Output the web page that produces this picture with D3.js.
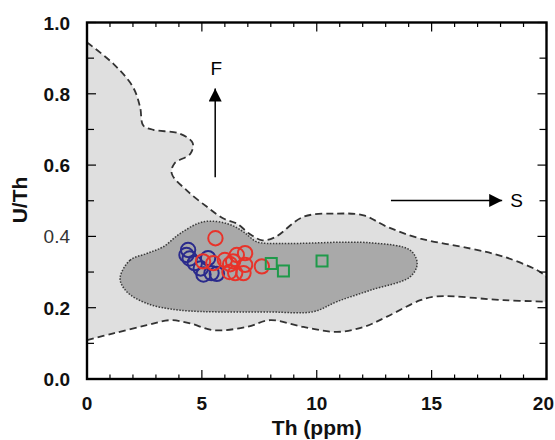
<!DOCTYPE html>
<html><head><meta charset="utf-8">
<script src="https://cdn.jsdelivr.net/npm/d3@7"></script>
<style>body{margin:0;background:#fff}svg{display:block}</style>
</head><body>
<svg id="c" width="555" height="440"></svg>
<script>
// ---- data ----
const xTicks = [0, 5, 10, 15, 20];
const yTicks = [0.0, 0.2, 0.4, 0.6, 0.8, 1.0];
const yTickLabels = ["0.0", "0.2", "0.4", "0.6", "0.8", "1.0"];
const xTickLabels = ["0", "5", "10", "15", "20"];

// outer field (dashed) top and bottom boundaries [Th, U/Th]
const outerTop = [[0,0.944],[1.15,0.884],[2.0,0.819],[2.31,0.763],[2.45,0.711],[2.89,0.699],[4.05,0.688],[4.6,0.662],[4.5,0.632],[3.8,0.604],[3.69,0.576],[4.34,0.529],[5.22,0.483],[5.94,0.450],[6.52,0.436],[7.1,0.406],[7.63,0.389],[8.19,0.398],[9.42,0.455],[10.88,0.464],[12.04,0.459],[13.06,0.427],[14.51,0.394],[16.69,0.366],[18.14,0.343],[19.6,0.305],[20,0.287]];
const outerBottom = [[0,0.109],[1.15,0.128],[2.6,0.151],[3.62,0.165],[4.49,0.156],[5.5,0.137],[6.96,0.146],[7.97,0.165],[9.42,0.146],[10.88,0.132],[12.04,0.146],[13.06,0.175],[14.51,0.221],[15.24,0.232],[18.14,0.221],[20,0.217]];
// inner field (dotted)
const innerField = [[1.44,0.282],[1.87,0.333],[2.6,0.352],[3.32,0.371],[4.05,0.408],[5.07,0.441],[6.09,0.436],[6.81,0.413],[7.39,0.385],[8.41,0.380],[12.33,0.382],[14.07,0.361],[14.37,0.324],[14.07,0.287],[12.33,0.249],[10.88,0.217],[9.86,0.189],[7.97,0.188],[4.05,0.193],[2.6,0.212],[1.73,0.245]];

const redTh  = [5.59,5.05,5.5,6.0,6.36,6.52,6.88,6.23,6.88,6.2,6.45,6.81,7.61];
const redUTh = [0.395,0.330,0.325,0.334,0.330,0.348,0.353,0.322,0.320,0.300,0.297,0.297,0.316];
const blueTh  = [4.40,4.33,4.47,4.69,5.27,4.95,5.07,5.42,5.65];
const blueUTh = [0.362,0.348,0.338,0.325,0.339,0.310,0.293,0.297,0.295];
const greenTh  = [8.02,8.55,10.23];
const greenUTh = [0.324,0.303,0.331];

// annotation arrows [x1,y1,x2,y2] in data units
const arrowF = [5.58,0.566,5.58,0.815];
const arrowS = [13.23,0.501,18.07,0.501];

// ---- drawing ----
const svg = d3.select("#c");
const L = 87, R = 546.5, T = 22.5, B = 379;
const x = d3.scaleLinear().domain([0,20]).range([L,R]);
const y = d3.scaleLinear().domain([0,1]).range([B,T]);

svg.append("defs").append("clipPath").attr("id","clip")
  .append("rect").attr("x",L).attr("y",T).attr("width",R-L).attr("height",B-T);
const g = svg.append("g").attr("clip-path","url(#clip)");

const line = d3.line().x(d=>x(d[0])).y(d=>y(d[1])).curve(d3.curveCatmullRom.alpha(0.5));
const topP = line(outerTop);
const botP = line(outerBottom.slice().reverse());
g.append("path").attr("d", topP + "L" + botP.slice(1) + "Z").attr("fill","#dfdfdf");
g.append("path").attr("d", topP).attr("fill","none").attr("stroke","#333").attr("stroke-width",1.8).attr("stroke-dasharray","7,4");
g.append("path").attr("d", line(outerBottom)).attr("fill","none").attr("stroke","#333").attr("stroke-width",1.8).attr("stroke-dasharray","7,4");

const closed = d3.line().x(d=>x(d[0])).y(d=>y(d[1])).curve(d3.curveCatmullRomClosed.alpha(0.5));
g.append("path").attr("d", closed(innerField)).attr("fill","#a9a9a9")
  .attr("stroke","#3a3a3a").attr("stroke-width",1.5).attr("stroke-dasharray","1.5,1.5");

// points
g.selectAll(".b").data(blueTh.map((v,i)=>[v,blueUTh[i]])).join("circle")
  .attr("cx",d=>x(d[0])).attr("cy",d=>y(d[1])).attr("r",7.2)
  .attr("fill","none").attr("stroke","#2a2a8c").attr("stroke-width",2);
g.selectAll(".r").data(redTh.map((v,i)=>[v,redUTh[i]])).join("circle")
  .attr("cx",d=>x(d[0])).attr("cy",d=>y(d[1])).attr("r",7.2)
  .attr("fill","none").attr("stroke","#e8332a").attr("stroke-width",2);
g.selectAll(".g").data(greenTh.map((v,i)=>[v,greenUTh[i]])).join("rect")
  .attr("x",d=>x(d[0])-5.5).attr("y",d=>y(d[1])-5.5).attr("width",11).attr("height",11)
  .attr("fill","none").attr("stroke","#1f9a4a").attr("stroke-width",2);

// arrows
const defs = svg.select("defs");
defs.append("marker").attr("id","ah").attr("viewBox","0 0 10 10").attr("refX",10).attr("refY",5)
  .attr("markerWidth",15).attr("markerHeight",13).attr("markerUnits","userSpaceOnUse").attr("orient","auto")
  .append("path").attr("d","M0,0L10,5L0,10Z").attr("fill","#000");
[arrowF, arrowS].forEach(a=>{
  svg.append("line").attr("x1",x(a[0])).attr("y1",y(a[1])).attr("x2",x(a[2])).attr("y2",y(a[3]))
    .attr("stroke","#000").attr("stroke-width",1.5).attr("marker-end","url(#ah)");
});
svg.append("text").attr("x",x(arrowF[2])+1).attr("y",y(arrowF[3])-13).attr("text-anchor","middle")
  .attr("font-family","Liberation Sans, Arial, sans-serif").attr("font-size",19).text("F");
svg.append("text").attr("x",x(arrowS[2])+8).attr("y",y(arrowS[3])+7).attr("text-anchor","start")
  .attr("font-family","Liberation Sans, Arial, sans-serif").attr("font-size",19).text("S");

// axes
const font = "Liberation Sans, Arial, sans-serif";
const ax = svg.append("g");
const xMinor = d3.range(0,21,1), yMinor = d3.range(0,1.001,0.1);
xMinor.forEach(v=>{
  const len = v%5===0 ? 9 : 4.5;
  ax.append("line").attr("x1",x(v)).attr("x2",x(v)).attr("y1",B).attr("y2",B-len).attr("stroke","#000").attr("stroke-width",1.2);
  ax.append("line").attr("x1",x(v)).attr("x2",x(v)).attr("y1",T).attr("y2",T+len).attr("stroke","#000").attr("stroke-width",1.2);
});
yMinor.forEach((v,i)=>{
  const len = i%2===0 ? 9 : 7;
  ax.append("line").attr("x1",L).attr("x2",L+len).attr("y1",y(v)).attr("y2",y(v)).attr("stroke","#000").attr("stroke-width",1.2);
  ax.append("line").attr("x1",R).attr("x2",R-len).attr("y1",y(v)).attr("y2",y(v)).attr("stroke","#000").attr("stroke-width",1.2);
});
ax.append("rect").attr("x",L).attr("y",T).attr("width",R-L).attr("height",B-T)
  .attr("fill","none").attr("stroke","#000").attr("stroke-width",2.4);

xTicks.forEach((v,i)=>{
  const last = i===xTicks.length-1;
  ax.append("text").attr("x",last?554:x(v)).attr("y",410).attr("text-anchor",last?"end":"middle")
    .attr("font-family",font).attr("font-weight","bold").attr("font-size",19).attr("fill","#111").text(xTickLabels[i]);
});
yTicks.forEach((v,i)=>{
  const odd = yTickLabels[i]==="0.4";
  ax.append("text").attr("x",70).attr("y",y(v)+7).attr("text-anchor","end")
    .attr("font-family",font).attr("font-weight",odd?"normal":"bold").attr("font-size",19)
    .attr("fill",odd?"#333":"#111").text(yTickLabels[i]);
});
ax.append("text").attr("x",(L+R)/2).attr("y",435).attr("text-anchor","middle")
  .attr("font-family",font).attr("font-weight","bold").attr("font-size",21).attr("fill","#111").text("Th (ppm)");
ax.append("text").attr("transform","translate(27,200) rotate(-90)").attr("text-anchor","middle")
  .attr("font-family",font).attr("font-weight","bold").attr("font-size",21).attr("fill","#111").text("U/Th");
</script>
</body></html>
